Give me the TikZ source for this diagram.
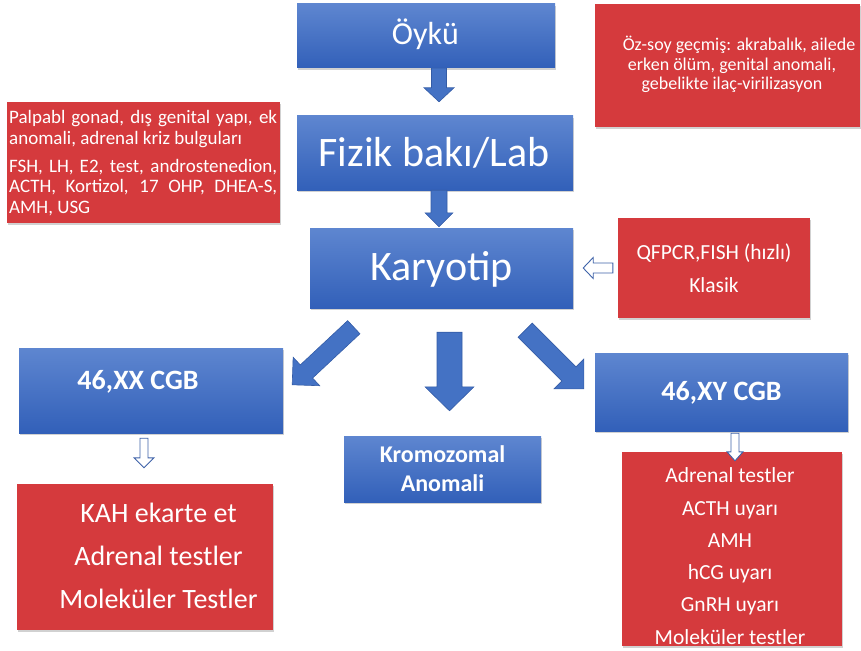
\documentclass[tikz,border=0pt]{standalone}
\usepackage{fontspec}
\setmainfont{Carlito}
\usetikzlibrary{calc,shadows}

\definecolor{boxtop}{RGB}{94,134,208}
\definecolor{boxbot}{RGB}{50,96,185}
\definecolor{notered}{RGB}{213,58,61}
\definecolor{arrowblue}{RGB}{68,114,196}
\definecolor{arrowedge}{RGB}{52,92,166}
\definecolor{hollowedge}{RGB}{62,98,168}

\newcommand\fsz[1]{\fontsize{#1}{#1}\selectfont}

% block arrow: style, tail, tip, shaft half width, head half width, head length
\newcommand\blockarrow[6]{%
  \filldraw[#1] ($(#2)!#4!90:(#3)$) -- ($(#3)!#6!(#2)!#4!-90:(#2)$)
    -- ($(#3)!#6!(#2)!#5!-90:(#2)$) -- (#3)
    -- ($(#3)!#6!(#2)!#5!90:(#2)$) -- ($(#3)!#6!(#2)!#4!90:(#2)$)
    -- ($(#2)!#4!-90:(#3)$) -- cycle;}

\tikzset{
  boxshadow/.style={drop shadow={shadow xshift=0.8pt, shadow yshift=-1.8pt, opacity=0.18, fill=black}},
  bluebox/.style={rectangle, inner sep=0pt, draw=none, top color=boxtop, bottom color=boxbot, boxshadow},
  redbox/.style={rectangle, inner sep=0pt, draw=none, fill=notered, boxshadow},
  txt/.style={text=white, inner sep=0pt, anchor=base},
  ltxt/.style={text=white, inner sep=0pt, anchor=base west},
  solidarrow/.style={fill=arrowblue, draw=arrowedge, line width=0.6pt, line join=miter},
  hollowarrow/.style={fill=white, draw=hollowedge, line width=0.9pt, line join=miter},
}

\begin{document}
\begin{tikzpicture}[x=1pt, y=-1pt]
\useasboundingbox (0,0) rectangle (861,650);
\clip (0,0) rectangle (861,650);

% main flow boxes
\node[bluebox, minimum width=258pt, minimum height=64pt] (oyku) at (426,36) {};
\node[bluebox, minimum width=276pt, minimum height=74pt] (fizik) at (435,153) {};
\node[bluebox, minimum width=263pt, minimum height=80pt] (karyo) at (441.5,268) {};
\node[bluebox, minimum width=264pt, minimum height=85pt] (xx) at (151,390.5) {};
\node[bluebox, minimum width=253pt, minimum height=78pt] (xy) at (721.5,392) {};
\node[bluebox, minimum width=197pt, minimum height=66pt] (krom) at (442.5,469) {};

% note boxes
\node[redbox, minimum width=273pt, minimum height=121pt] (fizred) at (143.5,162.5) {};
\node[redbox, minimum width=265pt, minimum height=123pt] (oykured) at (727.5,65.5) {};
\node[redbox, minimum width=192pt, minimum height=100pt] (qf) at (714,268) {};
\node[redbox, minimum width=256pt, minimum height=146pt] (kah) at (145,557) {};
\node[redbox, minimum width=220pt, minimum height=194pt] (xyred) at (732,549) {};

% arrow end points
\coordinate (a1t) at ($(oyku.south)+(13,0)$);
\coordinate (a1h) at ($(fizik.north)+(4,-14)$);
\coordinate (a2t) at ($(fizik.south)+(4,0)$);
\coordinate (a2h) at ($(karyo.north)+(-2.5,-1)$);
\coordinate (a3t) at ($(karyo.south)+(8,24)$);
\coordinate (a3h) at ($(krom.north)+(7,-25)$);
\coordinate (a4t) at ($(karyo.south west)+(44,19)$);
\coordinate (a4h) at ($(xx.north east)+(9,37)$);
\coordinate (a5t) at ($(karyo.south east)+(-48,22)$);
\coordinate (a5h) at ($(xy.north west)+(-11,36)$);
\coordinate (h1t) at ($(qf.west)+(-5,0)$);
\coordinate (h1h) at ($(karyo.east)+(10,0)$);
\coordinate (h2t) at ($(xx.south)+(-7,5)$);
\coordinate (h2h) at ($(kah.north)+(-1,-16)$);
\coordinate (h3t) at ($(xy.south)+(13.5,2)$);
\coordinate (h3h) at ($(xyred.north)+(3,9)$);

% solid block arrows
\blockarrow{solidarrow}{a1t}{a1h}{7.5pt}{15pt}{14pt}
\blockarrow{solidarrow}{a2t}{a2h}{8pt}{14pt}{14pt}
\blockarrow{solidarrow}{a3t}{a3h}{12.5pt}{24.5pt}{24pt}
\blockarrow{solidarrow}{a4t}{a4h}{9pt}{19.5pt}{19.5pt}
\blockarrow{solidarrow}{a5t}{a5h}{10pt}{21pt}{21pt}

% outlined arrows
\blockarrow{hollowarrow}{h1t}{h1h}{5pt}{10.5pt}{10pt}
\blockarrow{hollowarrow}{h2t}{h2h}{4pt}{10pt}{10pt}
\blockarrow{hollowarrow}{h3t}{h3h}{4pt}{8pt}{9pt}

% box titles
\node[txt, font=\fsz{32}] (toyku) at (425.5,45) {Öykü};
\node[txt, font=\fsz{42}] (tfizik) at (434,166) {Fizik bakı/Lab};
\node[txt, font=\fsz{42}] (tkaryo) at (441.5,280) {Karyotip};
\node[txt, font=\bfseries\fsz{28}] (txx) at (138,389) {46,XX CGB};
\node[txt, font=\bfseries\fsz{28}] (txy) at (721.5,400) {46,XY CGB};
\node[txt, font=\bfseries\fsz{24}] (tkrom1) at (442.5,462.7) {Kromozomal};
\node[txt, font=\bfseries\fsz{24}] (tkrom2) at (442.5,491.7) {Anomali};

% history note
\node[txt, font=\fsz{18}] (toz1) at (739,50.7) {Öz-soy geçmiş: akrabalık, ailede};
\node[txt, font=\fsz{18}] (toz2) at (732,70.7) {erken ölüm, genital anomali,};
\node[txt, font=\fsz{18}] (toz3) at (732,90) {gebelikte ilaç-virilizasyon};

% examination note
\node[ltxt, font=\fsz{19}] (tpal1) at (9,123) {\makebox[268pt][s]{Palpabl gonad, dış genital yapı, ek}};
\node[ltxt, font=\fsz{19}] (tpal2) at (9,144) {anomali, adrenal kriz bulguları};
\node[ltxt, font=\fsz{19}] (tlab1) at (9,172) {\makebox[268pt][s]{FSH, LH, E2, test, androstenedion,}};
\node[ltxt, font=\fsz{19}] (tlab2) at (9,192) {\makebox[268pt][s]{ACTH, Kortizol, 17 OHP, DHEA-S,}};
\node[ltxt, font=\fsz{19}] (tlab3) at (9,213) {AMH, USG};

% karyotype methods
\node[txt, font=\fsz{21.5}] (tqf1) at (714,259) {QFPCR,FISH (hızlı)};
\node[txt, font=\fsz{21.5}] (tqf2) at (714,292) {Klasik};

% 46,XX work-up
\node[txt, font=\fsz{28}] (tkah1) at (158.5,522.7) {KAH ekarte et};
\node[txt, font=\fsz{28}] (tkah2) at (158.5,565.7) {Adrenal testler};
\node[txt, font=\fsz{28}] (tkah3) at (158.5,608.3) {Moleküler Testler};

% 46,XY work-up
\foreach \line [count=\i] in {Adrenal testler, ACTH uyarı, AMH, hCG uyarı, GnRH uyarı, Moleküler testler}
  \node[txt, font=\fsz{21.5}] (txy\i) at (730,{482.7+32.3*(\i-1)}) {\line};
\end{tikzpicture}
\end{document}
